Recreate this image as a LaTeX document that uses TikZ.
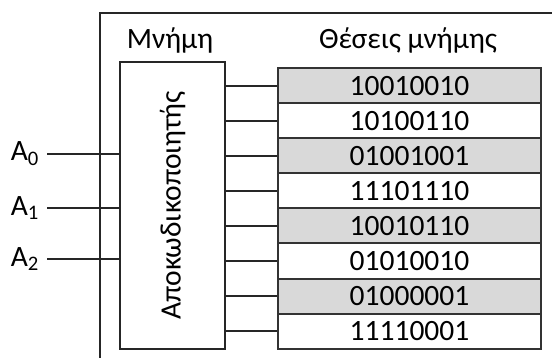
\documentclass[tikz,border=0pt]{standalone}
\usepackage{fontspec}
\setmainfont{Carlito}
\begin{document}
\begin{tikzpicture}[x=1pt,y=-1pt,
  wire/.style={line width=2pt, draw=black!85},
  cell/.style={draw=black!80, line width=2pt, minimum width=263pt, minimum height=35.1pt, inner sep=0pt, anchor=north west},
  shaded/.style={fill=black!15},
  txt/.style={font=\fontsize{29.5}{32}\selectfont, inner sep=0pt}]
\useasboundingbox (0,0) rectangle (552,358);
% enclosing memory frame (open to the right and bottom)
\draw[wire] (100,360) -- (100,13) -- (554,13);
\node[txt] (mem) at (170,40) {Μνήμη};
\node[txt] (pos) at (408,40) {Θέσεις μνήμης};
% decoder block
\node[draw=black!85, line width=2pt, minimum width=105pt, minimum height=287pt, inner sep=0pt, anchor=north west] (dec) at (119,61) {};
\node[txt, rotate=90] (declabel) at (dec.center) {Αποκωδικοποιητής};
% memory cells
\foreach \v [count=\i from 0] in {10010010,10100110,01001001,11101110,10010110,01010010,01000001,11110001}{
  \pgfmathsetmacro{\yy}{67+35.1*\i}
  \ifodd\i
    \node[cell] (c\i) at (277,\yy) {};
  \else
    \node[cell, shaded] (c\i) at (277,\yy) {};
  \fi
  \node[txt] at (c\i.center) {\v};
  \draw[wire] (c\i.west -| dec.east) -- (c\i.west);
}
% address inputs
\foreach \k/\yy in {0/154,1/208,2/259}{
  \coordinate (in\k) at (47,\yy);
  \node[txt, anchor=east] (a\k) at (39,\yy) {A\textsubscript{\k}};
  \draw[wire] (in\k) -- (in\k -| dec.west);
}
\end{tikzpicture}
\end{document}
